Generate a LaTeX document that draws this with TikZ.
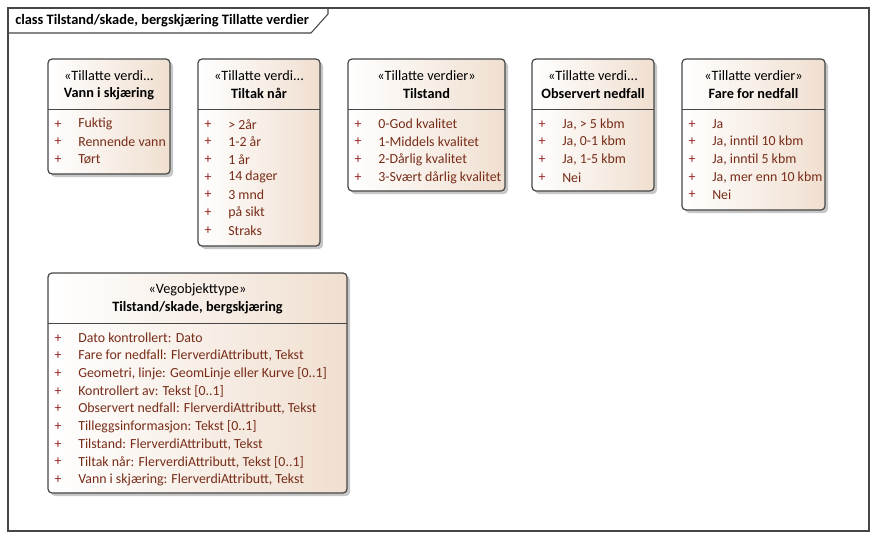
\documentclass[tikz,border=0pt]{standalone}
\usepackage{fontspec}
\setmainfont{Carlito}
\usepackage{xcolor}
\usetikzlibrary{positioning}

\definecolor{boxfill}{RGB}{240,223,208}
\definecolor{boxline}{RGB}{70,70,70}
\definecolor{pluscol}{RGB}{150,35,35}
\definecolor{attrcol}{RGB}{120,45,25}

\tikzset{
  klasse/.style={draw=boxline, line width=0.9pt, rounded corners=3, left color=white, right color=boxfill},
  skygge/.style={fill=black!22, rounded corners=3},
  skille/.style={draw=boxline, line width=0.7pt},
  tekst/.style={inner sep=0pt, font=\fontsize{10.4}{12}\selectfont},
  stereo/.style={tekst, anchor=center, font=\fontsize{10.7}{12}\selectfont},
  navn/.style={tekst, anchor=center, font=\fontsize{10.7}{12}\selectfont\bfseries},
  pluss/.style={tekst, text=pluscol, anchor=center},
  attr/.style={tekst, text=attrcol, anchor=west}
}

\begin{document}
\begin{tikzpicture}[x=0.75pt, y=-0.75pt]
        \useasboundingbox (0,0) rectangle (877,539);

        % ramme
        \draw[boxline, line width=0.8pt] (8,8) rectangle (869,531);
        \draw[boxline, line width=0.8pt] (8,33) -- (311,33) -- (328,14) -- (328,8);
        \node[tekst, anchor=west, font=\fontsize{10.8}{12}\selectfont\bfseries] (tittel) at (15,20.5) {class Tilstand/skade, bergskjæring Tillatte verdier};

        % Vann i skjæring
        \fill[skygge] (51,62) rectangle (173,177);
        \draw[klasse] (48,59) rectangle (170,174);
        \draw[skille] (48,109) -- (170,109);
        \node[stereo] (vann-st) at (109,75.5) {«Tillatte verdi...};
        \node[navn] (vann) at (109,93.5) {Vann i skjæring};
        \foreach \t [count=\i] in {Fuktig, Rennende vann, Tørt} {
          \node[pluss] (vann-p\i) at (58,106.5+17.7*\i) {+};
          \node[attr] (vann-a\i) at (78,106.5+17.7*\i) {\t};
        }

        % Tiltak når
        \fill[skygge] (201,62) rectangle (323,249);
        \draw[klasse] (198,59) rectangle (320,246);
        \draw[skille] (198,109) -- (320,109);
        \node[stereo] (tiltak-st) at (259,75.5) {«Tillatte verdi...};
        \node[navn] (tiltak) at (259,93.5) {Tiltak når};
        \foreach \t [count=\i] in {> 2år, 1-2 år, 1 år, 14 dager, 3 mnd, på sikt, Straks} {
          \node[pluss] (tiltak-p\i) at (208,106.5+17.7*\i) {+};
          \node[attr] (tiltak-a\i) at (228,106.5+17.7*\i) {\t};
        }

        % Tilstand
        \fill[skygge] (351,62) rectangle (508,194);
        \draw[klasse] (348,59) rectangle (505,191);
        \draw[skille] (348,109) -- (505,109);
        \node[stereo] (tilstand-st) at (426.5,75.5) {«Tillatte verdier»};
        \node[navn] (tilstand) at (426.5,93.5) {Tilstand};
        \foreach \t [count=\i] in {0-God kvalitet, 1-Middels kvalitet, 2-Dårlig kvalitet, 3-Svært dårlig kvalitet} {
          \node[pluss] (tilstand-p\i) at (358,106.5+17.7*\i) {+};
          \node[attr] (tilstand-a\i) at (378,106.5+17.7*\i) {\t};
        }

        % Observert nedfall
        \fill[skygge] (535,62) rectangle (657,194);
        \draw[klasse] (532,59) rectangle (654,191);
        \draw[skille] (532,109) -- (654,109);
        \node[stereo] (obs-st) at (593,75.5) {«Tillatte verdi...};
        \node[navn] (obs) at (593,93.5) {Observert nedfall};
        \foreach \t [count=\i] in {{Ja, > 5 kbm}, {Ja, 0-1 kbm}, {Ja, 1-5 kbm}, Nei} {
          \node[pluss] (obs-p\i) at (542,106.5+17.7*\i) {+};
          \node[attr] (obs-a\i) at (562,106.5+17.7*\i) {\t};
        }

        % Fare for nedfall
        \fill[skygge] (685,62) rectangle (828,213);
        \draw[klasse] (682,59) rectangle (825,210);
        \draw[skille] (682,109) -- (825,109);
        \node[stereo] (fare-st) at (753.5,75.5) {«Tillatte verdier»};
        \node[navn] (fare) at (753.5,93.5) {Fare for nedfall};
        \foreach \t [count=\i] in {Ja, {Ja, inntil 10 kbm}, {Ja, inntil 5 kbm}, {Ja, mer enn 10 kbm}, Nei} {
          \node[pluss] (fare-p\i) at (692,106.5+17.7*\i) {+};
          \node[attr] (fare-a\i) at (712,106.5+17.7*\i) {\t};
        }

        % Vegobjekttype
        \fill[skygge] (51,276) rectangle (350,496);
        \draw[klasse] (48,273) rectangle (347,493);
        \draw[skille] (48,323) -- (347,323);
        \node[stereo] (veg-st) at (197.5,289.5) {«Vegobjekttype»};
        \node[navn] (veg) at (197.5,307.5) {Tilstand/skade, bergskjæring};
        \foreach \t [count=\i] in {Dato kontrollert: Dato, {Fare for nedfall: FlerverdiAttributt, Tekst}, {Geometri, linje: GeomLinje eller Kurve [0..1]}, Kontrollert av: Tekst [0..1], {Observert nedfall: FlerverdiAttributt, Tekst}, Tilleggsinformasjon: Tekst [0..1], {Tilstand: FlerverdiAttributt, Tekst}, {Tiltak når: FlerverdiAttributt, Tekst [0..1]}, {Vann i skjæring: FlerverdiAttributt, Tekst}} {
          \node[pluss] (veg-p\i) at (58,320.5+17.7*\i) {+};
          \node[attr] (veg-a\i) at (78,320.5+17.7*\i) {\t};
        }
      \end{tikzpicture}
\end{document}
